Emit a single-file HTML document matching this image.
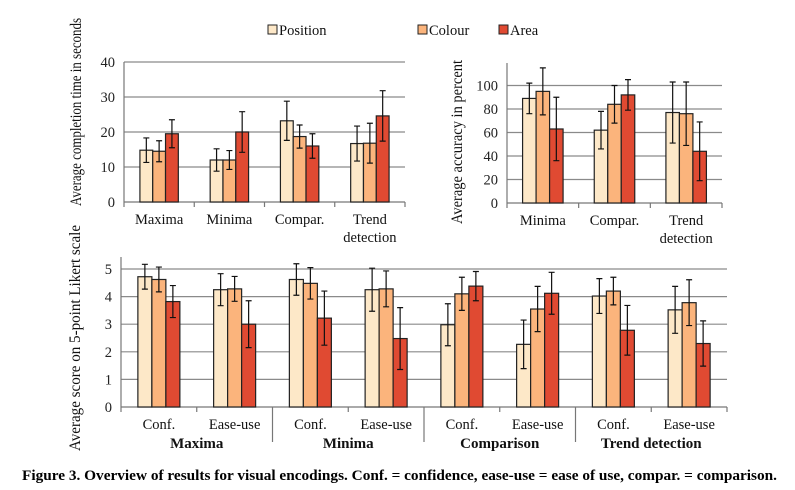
<!DOCTYPE html>
<html><head><meta charset="utf-8">
<style>
body{margin:0;background:#fff;}
svg{display:block;font-family:"Liberation Serif",serif;}
</style></head>
<body>
<svg id="fig" width="795" height="490" viewBox="0 0 795 490"></svg>
<script>
const seriesNames=["Position","Colour","Area"];
const colors=["#fde8c8","#fbb47c","#e04a32"];
// Chart 1: completion time
const c1Cats=["Maxima","Minima","Compar.","Trend|detection"];
const c1Vals=[[14.8,14.5,19.5],[12,12,20],[23.2,18.7,16],[16.7,16.8,24.6]];
const c1Err=[[3.5,3,4],[3.2,2.7,5.8],[5.6,3.3,3.5],[5,5.7,7.2]];
const c1Ticks=[0,10,20,30,40];
// Chart 2: accuracy
const c2Cats=["Minima","Compar.","Trend|detection"];
const c2Vals=[[89,95,63],[62,84,92],[77,76,44]];
const c2Err=[[13,20,27],[16,16,13],[26,27,25]];
const c2Ticks=[0,20,40,60,80,100];
// Chart 3: Likert
const c3Groups=["Maxima","Minima","Comparison","Trend detection"];
const c3Sub=["Conf.","Ease-use","Conf.","Ease-use","Conf.","Ease-use","Conf.","Ease-use"];
const c3Vals=[[4.72,4.62,3.82],[4.25,4.28,3.0],[4.62,4.48,3.22],[4.25,4.28,2.48],[2.98,4.1,4.38],[2.27,3.55,4.12],[4.02,4.2,2.78],[3.52,3.78,2.3]];
const c3Err=[[0.45,0.45,0.58],[0.58,0.45,0.85],[0.57,0.57,0.98],[0.78,0.65,1.12],[0.76,0.6,0.53],[0.88,0.82,0.76],[0.63,0.5,0.9],[0.85,0.83,0.82]];
const c3Ticks=[0,1,2,3,4,5];

const NS="http://www.w3.org/2000/svg";
const svg=document.getElementById('fig');
function el(tag,attrs,parent,text){const e=document.createElementNS(NS,tag);for(const k in attrs)e.setAttribute(k,attrs[k]);if(text!==undefined)e.textContent=text;(parent||svg).appendChild(e);return e;}

function chart(o){
  const g=el('g',{});
  
  
  const y=v=>o.y0-(v-o.min)/(o.max-o.min)*(o.y0-o.yTop);
  o.ticks.forEach(t=>{
    if(t>0){const gl=el('line',{x1:o.x0,x2:o.x1,y1:y(t),y2:y(t),stroke:'#8a8a8a','stroke-width':1.2},g);
    }
    const tl=el('text',{x:o.x0-9,y:y(t)+5,'text-anchor':'end','font-size':14.5,fill:'#222'},g,t);
    
  });
  const ax=el('line',{x1:o.x0,x2:o.x0,y1:o.axisTop,y2:o.y0,stroke:'#777','stroke-width':1.2},g);
  
  const xa=el('line',{x1:o.x0,x2:o.x1,y1:o.y0,y2:o.y0,stroke:'#777','stroke-width':1.2},g);
  
  const n=o.vals.length, cw=(o.x1-o.x0)/n;
  for(let i=0;i<=n;i++){
    const tk=el('line',{x1:o.x0+i*cw,x2:o.x0+i*cw,y1:o.y0,y2:o.y0+(o.tickLen?o.tickLen(i):5),stroke:'#777','stroke-width':1.2},g);
    
  }
  o.vals.forEach((row,i)=>{
    const cx=o.x0+(i+0.5)*cw;
    row.forEach((v,j)=>{
      const bx=cx+(j-1.5)*o.bw;
      const r=el('rect',{x:bx,y:y(v),width:o.bw,height:o.y0-y(v),fill:colors[j],stroke:'#222','stroke-width':1.2},g);
      
      
      const ex=bx+o.bw/2, e=o.err[i][j];
      const eb=el('path',{d:`M${ex},${y(v+e)}V${y(v-e)}M${ex-3},${y(v+e)}h6M${ex-3},${y(v-e)}h6`,stroke:'#111','stroke-width':1.2,fill:'none'},g);
      
    });
    const lines=o.cats[i].split('|');
    lines.forEach((s,k)=>{
      const t=el('text',{x:cx,y:o.y0+22+k*18,'text-anchor':'middle','font-size':14.5,fill:'#111'},g,s);
      
    });
  });
  const tt=el('text',{transform:`translate(${o.tx},${o.ty}) rotate(-90)`,'text-anchor':'middle','font-size':15.5,fill:'#111',textLength:o.tlen,lengthAdjust:'spacingAndGlyphs'},g,o.title);
  
  return g;
}

chart({name:'completion-time-chart',x0:124,x1:405,y0:202,yTop:62,axisTop:62,min:0,max:40,ticks:c1Ticks,vals:c1Vals,err:c1Err,cats:c1Cats,bw:12.8,title:'Average completion time in seconds',tx:81,ty:112,tlen:188});
chart({name:'accuracy-chart',x0:507,x1:722,y0:203,yTop:85.5,axisTop:63,min:0,max:100,ticks:c2Ticks,vals:c2Vals,err:c2Err,cats:c2Cats,bw:13.5,title:'Average accuracy in percent',tx:462,ty:142,tlen:164});
chart({name:'likert-chart',x0:121,x1:727,y0:407,yTop:269,axisTop:257,min:0,max:5,ticks:c3Ticks,vals:c3Vals,err:c3Err,cats:c3Sub,bw:14,title:'Average score on 5-point Likert scale',tx:80,ty:338,tlen:226,tickLen:i=>(i%2===0&&i>0&&i<8)?35:5});
c3Groups.forEach((gname,i)=>{
  const cw=(727-121)/4;
  const t=el('text',{x:121+(i+0.5)*cw,y:448,'text-anchor':'middle','font-size':15,'font-weight':'bold',fill:'#111'},svg,gname);
  
});
// legend
const legX=[268,418,499];
seriesNames.forEach((s,j)=>{
  const r=el('rect',{x:legX[j],y:25,width:9,height:9,fill:colors[j],stroke:'#222','stroke-width':1});
  
  const t=el('text',{x:legX[j]+11,y:35,'font-size':14.5,fill:'#111'},svg,s);
  
});
const cap=el('text',{x:22,y:480,'font-size':14.5,'font-weight':'bold',fill:'#000',textLength:755,lengthAdjust:'spacingAndGlyphs'},svg,'Figure 3. Overview of results for visual encodings. Conf. = confidence, ease-use = ease of use, compar. = comparison.');

</script>
</body></html>
